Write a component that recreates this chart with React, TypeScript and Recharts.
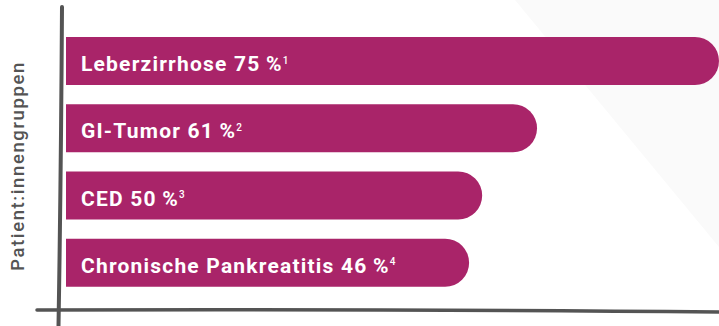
import { BarChart, Bar, XAxis, YAxis, LabelList, Customized, usePlotArea } from "recharts"

// groups, printed share and footnote number
const groups = ["Leberzirrhose", "GI-Tumor", "CED", "Chronische Pankreatitis"]
const shares = [75, 61, 50, 46]
const footnotes = ["1", "2", "3", "4"]
// bar lengths as drawn in the source graphic (they are not to scale with the printed shares)
const barLengths = [75, 54.1, 47.8, 46.3]

const axisLabel = "Patient:innengruppen"
const magenta = "#a92469"
const ink = "#545454"

const data = groups.map((name, i) => ({
  name,
  share: shares[i],
  length: barLengths[i],
  note: footnotes[i],
}))

function SketchAxes() {
  const area = usePlotArea()
  if (!area) return null
  const left = area.x
  const bottom = area.y + area.height
  return (
    <g>
      <path
        d={`M ${left - 4} ${area.y - 20} Q ${left - 5} ${bottom - 120} ${left - 7.5} ${bottom + 30}`}
        stroke={ink}
        strokeWidth={4}
        strokeLinecap="round"
        fill="none"
      />
      <path
        d={`M ${left - 29} ${bottom + 14} Q ${left + 330} ${bottom + 13} ${area.x + area.width} ${bottom + 16}`}
        stroke={ink}
        strokeWidth={3.5}
        strokeLinecap="round"
        fill="none"
      />
    </g>
  )
}

function BarText(props: any) {
  const { x, y, height, index } = props
  const row = data[index]
  const baseline = Number(y) + Number(height) / 2 + 10
  return (
    <text
      x={Number(x) + 15}
      y={baseline}
      fill="#ffffff"
      fontSize={21}
      fontWeight={700}
      letterSpacing={1.2}
      fontFamily="Roboto, 'Open Sans', sans-serif"
    >
      {`${row.name} ${row.share}\u2009%`}
      <tspan dx={0} dy={-7.5} fontSize={10} fontWeight={500}>
        {row.note}
      </tspan>
    </text>
  )
}

function GroupLabel() {
  return (
    <text
      x={18}
      y={166}
      transform="rotate(-90, 18, 166)"
      textAnchor="middle"
      dominantBaseline="central"
      fill={ink}
      fontSize={18.5}
      fontWeight={500}
      letterSpacing={1.6}
      fontFamily="Roboto, 'Open Sans', sans-serif"
    >
      {axisLabel}
    </text>
  )
}

export default function App() {
  return (
    <div style={{ position: "relative", width: 719, height: 326, background: "#ffffff" }}>
      <style>{`body { margin: 0; }`}</style>
      <div
        style={{
          position: "absolute",
          inset: 0,
          background: "#fafafa",
          clipPath: "polygon(515px 0, 719px 0, 719px 247px)",
        }}
      />
      <div style={{ position: "absolute", inset: 0 }}>
        <BarChart
          width={719}
          height={326}
          data={data}
          layout="vertical"
          margin={{ top: 27, right: 0, bottom: 30, left: 0 }}
          barSize={48}
        >
          <XAxis type="number" domain={[0, 75]} hide />
          <YAxis type="category" dataKey="name" width={66} tick={false} axisLine={false} tickLine={false} />
          <Bar dataKey="length" fill={magenta} radius={[0, 24, 24, 0]} isAnimationActive={false}>
            <LabelList dataKey="name" content={BarText} />
          </Bar>
          <Customized component={SketchAxes} />
          <Customized component={GroupLabel} />
        </BarChart>
      </div>
    </div>
  )
}
